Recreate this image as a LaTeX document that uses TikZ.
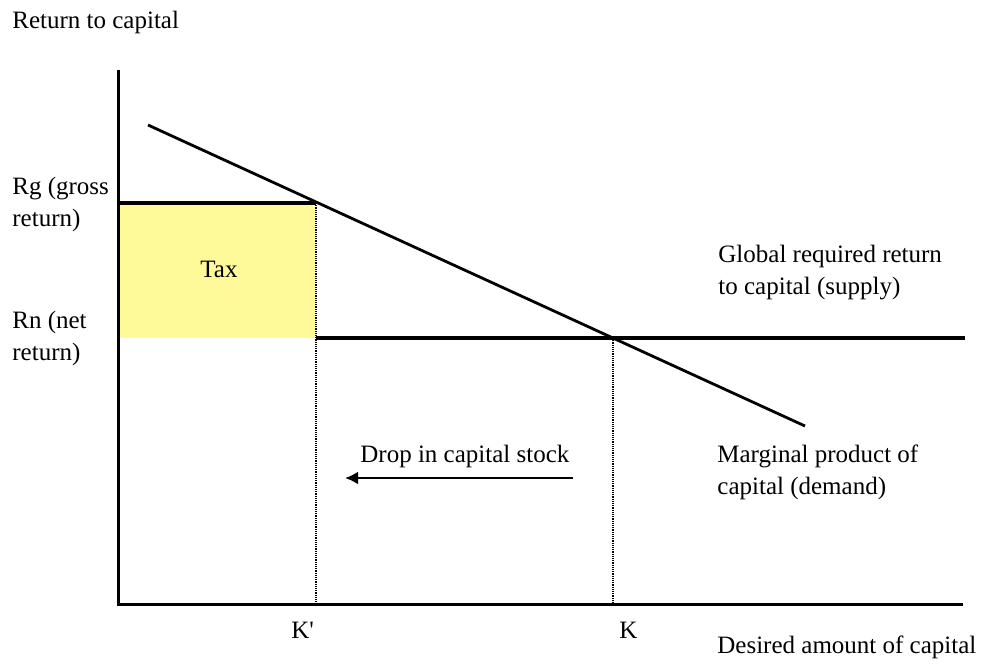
\documentclass[tikz,border=0pt]{standalone}
\usepackage{fontspec}
\setmainfont{Liberation Serif}
\usetikzlibrary{arrows.meta}
\newcommand{\twolines}[2]{\begin{tabular}[t]{@{}l@{}}#1\\#2\end{tabular}}
\begin{document}
\begin{tikzpicture}[x=0.5pt,y=-0.5pt,
    every node/.style={font=\fontsize{12.5}{16}\selectfont, inner sep=0pt},
    lbl/.style={anchor=base west},
    axisline/.style={line width=1.5pt},
    levelline/.style={line width=2pt},
    demandline/.style={line width=1.4pt},
    dropline/.style={line width=1pt, dash pattern=on 0.6pt off 0.5pt}]
    \useasboundingbox (0,0) rectangle (982,666);

    % Points of the diagram
    \coordinate (O) at (118,604);
    \coordinate (ytop) at (118,70);
    \coordinate (xend) at (963,604);
    \coordinate (rg) at (118,203);
    \coordinate (kpup) at (316,203);
    \coordinate (kpdown) at (316,604);
    \coordinate (rnleft) at (316,338);
    \coordinate (rnright) at (965,338);
    \coordinate (kup) at (613,338);
    \coordinate (kdown) at (613,604);
    \coordinate (mpk1) at (148,125);
    \coordinate (mpk2) at (805,426);
    \coordinate (arrstart) at (573,478);
    \coordinate (arrend) at (345,478);

    % Tax area
    \fill[yellow!40] (rg) rectangle (rnleft);

    % Dotted drops to the axis
    \draw[dropline] (kpup) -- (kpdown);
    \draw[dropline] (kup) -- (kdown);

    % Gross and net return lines
    \draw[levelline] (rg) -- (kpup);
    \draw[levelline] (rnleft) -- (rnright);

    % Marginal product of capital
    \draw[demandline] (mpk1) -- (mpk2);

    % Axes
    \draw[axisline] (ytop) -- (O) -- (xend);

    % Drop in capital stock
    \draw[line width=1.4pt, -{Latex[length=6.5pt,width=6.5pt]}] (arrstart) -- (arrend);

    % Labels
    \node[lbl] (ylabel) at (12,28) {Return to capital};
    \node[lbl] (rglabel) at (12,194) {\twolines{Rg (gross}{return)}};
    \node[lbl] (rnlabel) at (12,328) {\twolines{Rn (net}{return)}};
    \node[anchor=base] (tax) at (219,277) {Tax};
    \node[lbl] (supply) at (718,262) {\twolines{Global required return}{to capital (supply)}};
    \node[lbl] (demand) at (717,462) {\twolines{Marginal product of}{capital (demand)}};
    \node[lbl] (drop) at (360,462) {Drop in capital stock};
    \node[lbl] (kp) at (291,638) {K\textquotesingle};
    \node[lbl] (k) at (619,638) {K};
    \node[lbl] (xlabel) at (717,653) {Desired amount of capital};
\end{tikzpicture}
\end{document}
